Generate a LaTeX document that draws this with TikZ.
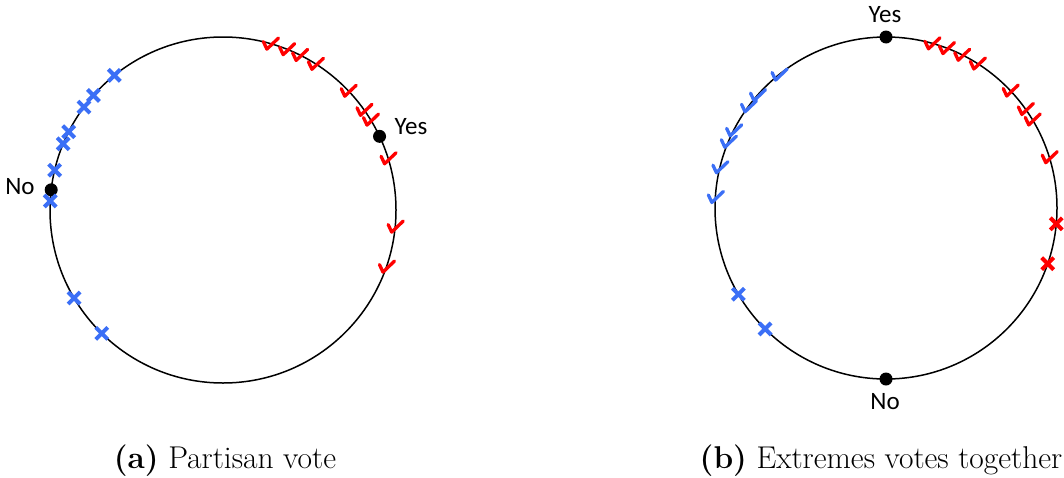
\documentclass[tikz,border=0pt]{standalone}
\usepackage{fontspec}
\newfontfamily\lblfont{Carlito}
\definecolor{xblue}{RGB}{59,111,246}
\definecolor{xred}{RGB}{255,0,0}
\tikzset{
  ring/.style={draw=black, line width=1.5pt},
  vdot/.style={circle, fill=black, inner sep=0pt, minimum size=13pt},
  vlabel/.style={font=\lblfont\fontsize{25}{29}\selectfont, inner sep=0pt},
  capt/.style={font=\fontsize{31.5}{36}\selectfont, anchor=base, inner sep=0pt},
  chk/.pic={\draw[line width=3.3pt, line cap=round, line join=round] (-7,2) -- (-3.5,-5.5) -- (8,5.5);},
  crs/.pic={\draw[line width=4pt] (-6,-6) -- (6,6) (-6,6) -- (6,-6);}
}
\begin{document}
\begin{tikzpicture}[x=1pt,y=1pt]
\useasboundingbox (0,0) rectangle (1064,-477);
% ---------- (a) ----------
\begin{scope}[shift={(223,-210)}]
  \draw[ring] (0,0) circle[radius=173pt];
  \node[vdot] (yesA) at (25.2:173pt) {};
  \node[vdot] (noA) at (173.3:173pt) {};
  \foreach \a in {128.9,138.5,143.5,153.1,157.5,166.7,177,210.6,225.5}
    \pic[xblue] at (\a:173pt) {crs};
  \foreach \a in {74.1,68.4,63.7,57.7,43.6,35.4,31.5,17.4,-5.5,-19.1}
    \pic[xred] at (\a:173pt) {chk};
\end{scope}
\node[vlabel] (yesAl) at (411,-127) {Yes};
\node[vlabel] (noAl) at (20,-187) {No};
\node[capt] (capA) at (225,-468) {\textbf{(a)} Partisan vote};
% ---------- (b) ----------
\begin{scope}[shift={(886,-208)}]
  \draw[ring] (0,0) circle[radius=171pt];
  \node[vdot] (yesB) at (90:171pt) {};
  \node[vdot] (noB) at (270:171pt) {};
  \foreach \a in {128.7,138.7,143.5,153,157.2,166.2,176.3}
    \pic[xblue] at (\a:171pt) {chk};
  \foreach \a in {210.3,225}
    \pic[xblue] at (\a:171pt) {crs};
  \foreach \a in {74.4,69.3,63.7,57.7,43.4,35.4,31.2,17.3}
    \pic[xred] at (\a:171pt) {chk};
  \foreach \a in {-5.3,-19}
    \pic[xred] at (\a:171pt) {crs};
\end{scope}
\node[vlabel] (yesBl) at (885,-15) {Yes};
\node[vlabel] (noBl) at (885,-402) {No};
\node[capt] (capB) at (881,-468) {\textbf{(b)} Extremes votes together};
\end{tikzpicture}
\end{document}
